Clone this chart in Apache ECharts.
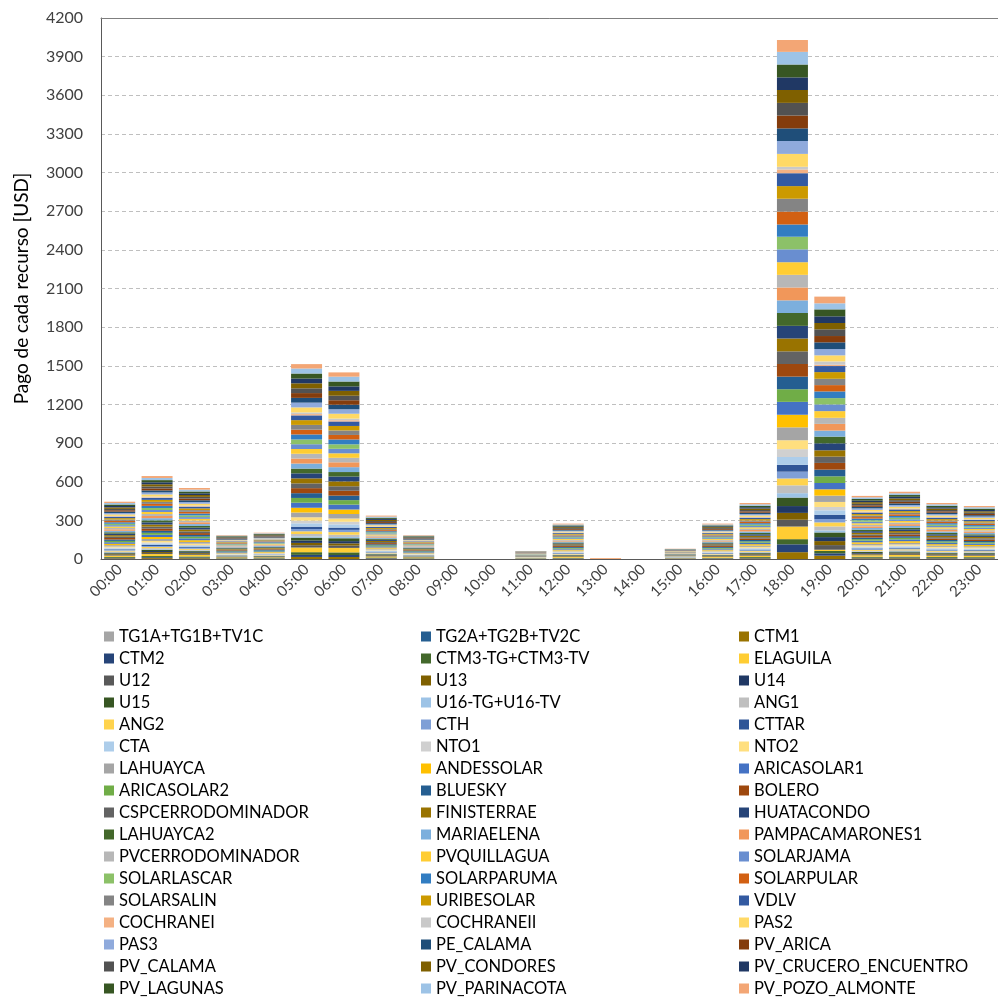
<!DOCTYPE html>
<html>
<head>
<meta charset="utf-8">
<script src="https://cdn.jsdelivr.net/npm/echarts@6/dist/echarts.min.js"></script>
<style>
html,body{margin:0;padding:0;background:#fff;}
#chart{width:998px;height:1001px;}
</style>
</head>
<body>
<div id="chart"></div>
<script>
const hours = ["00:00","01:00","02:00","03:00","04:00","05:00","06:00","07:00","08:00","09:00","10:00","11:00","12:00","13:00","14:00","15:00","16:00","17:00","18:00","19:00","20:00","21:00","22:00","23:00"];
const yTicks = {min: 0, max: 4200, step: 300};

const names = ["TG1A+TG1B+TV1C","TG2A+TG2B+TV2C","CTM1","CTM2","CTM3-TG+CTM3-TV","ELAGUILA","U12","U13","U14","U15","U16-TG+U16-TV","ANG1","ANG2","CTH","CTTAR","CTA","NTO1","NTO2","LAHUAYCA","ANDESSOLAR","ARICASOLAR1","ARICASOLAR2","BLUESKY","BOLERO","CSPCERRODOMINADOR","FINISTERRAE","HUATACONDO","LAHUAYCA2","MARIAELENA","PAMPACAMARONES1","PVCERRODOMINADOR","PVQUILLAGUA","SOLARJAMA","SOLARLASCAR","SOLARPARUMA","SOLARPULAR","SOLARSALIN","URIBESOLAR","VDLV","COCHRANEI","COCHRANEII","PAS2","PAS3","PE_CALAMA","PV_ARICA","PV_CALAMA","PV_CONDORES","PV_CRUCERO_ENCUENTRO","PV_LAGUNAS","PV_PARINACOTA","PV_POZO_ALMONTE"];

const colors = ["#A5A5A5","#255E91","#997300","#264478","#43682B","#FFCD33","#595959","#7F6000","#203864","#375623","#9DC3E6","#BFBFBF","#FFD34D","#7F9FD6","#2F5597","#ADCDEA","#D0D0D0","#FFDF7F","#A5A5A5","#FFC000","#4472C4","#70AD47","#255E91","#9E480E","#636363","#997300","#264478","#43682B","#7CAFDD","#F1975A","#B7B7B7","#FFCD33","#698ED0","#8CC168","#327DC2","#D26012","#848484","#CC9A00","#335AA1","#F4B183","#C9C9C9","#FFD966","#8FAADC","#1F4E79","#843C0C","#525252","#7F6000","#203864","#375623","#9DC3E6","#F3A675"];

// values per series, one entry per hour 00:00..23:00
const TG1A = [0,0,0,0,0,0,0,0,0,0,0,0,0,0,0,0,0,0,0,0,0,0,0,0];
const TG2A = [0,0,0,0,0,0,0,0,0,0,0,0,0,0,0,0,0,0,0,0,0,0,0,0];
const CTM1 = [4.8,6.9,5.9,2.0,2.2,16,15.5,3.6,2.0,0,0,0.7,2.9,0,0,0.9,2.9,4.7,53,26,5.2,5.6,4.7,4.4];
const CTM2 = [4.8,6.9,5.9,2.0,2.2,16,15.5,3.6,2.0,0,0,0.7,2.9,0,0,0.9,2.9,4.7,61,18,5.2,5.6,4.7,4.4];
const CTM3 = [6.3,9.1,7.7,2.6,2.9,21,20.4,4.7,2.6,0,0,0.9,3.9,0,0,1.1,3.9,6.1,40,18,6.9,7.3,6.1,5.8];
const ELAGUILA = [10.7,15.5,13.3,4.5,4.9,36,34.9,8.1,4.5,0,0,1.5,6.6,0,0,1.9,6.6,10.5,98,10,11.8,12.6,10.5,9.9];
const U12 = [5.4,7.8,6.6,2.2,2.5,18,17.5,4.1,2.2,0,0,0.7,3.3,0,0,1.0,3.3,5.2,53,36,5.9,6.3,5.2,5.0];
const U13 = [5.4,7.8,6.6,2.2,2.5,18,17.5,4.1,2.2,0,0,0.7,3.3,0,0,1.0,3.3,5.2,53,31,5.9,6.3,5.2,5.0];
const U14 = [5.4,7.8,6.6,2.2,2.5,18,17.5,4.1,2.2,0,0,0.7,3.3,0,0,1.0,3.3,5.2,53,31,5.9,6.3,5.2,5.0];
const U15 = [6.9,9.9,8.5,2.9,3.2,23,22.3,5.2,2.9,0,0,1.0,4.2,0,0,1.2,4.2,6.7,66,36,7.5,8.0,6.7,6.3];
const U16 = [3.0,4.3,3.7,1.2,1.4,10,9.7,2.3,1.2,0,0,0.4,1.8,0,0,0.5,1.8,2.9,34,16,3.3,3.5,2.9,2.8];
const ANG1 = [5.4,7.8,6.6,2.2,2.5,18,17.5,4.1,2.2,0,0,0.7,3.3,0,0,1.0,3.3,5.2,61,31,5.9,6.3,5.2,5.0];
const ANG2 = [6.3,9.1,7.7,2.6,2.9,21,20.4,4.7,2.6,0,0,0.9,3.9,0,0,1.1,3.9,6.1,53,31,6.9,7.3,6.1,5.8];
const CTH = [5.4,7.8,6.6,2.2,2.5,18,17.5,4.1,2.2,0,0,0.7,3.3,0,0,1.0,3.3,5.2,53,26,5.9,6.3,5.2,5.0];
const CTTAR = [5.4,7.8,6.6,2.2,2.5,18,17.5,4.1,2.2,0,0,0.7,3.3,0,0,1.0,3.3,5.2,53,34,5.9,6.3,5.2,5.0];
const CTA = [7.7,11.2,9.6,3.2,3.6,26,25.2,5.9,3.2,0,0,1.1,4.8,0,0,1.4,4.8,7.6,61,34,8.5,9.1,7.6,7.2];
const NTO1 = [6.3,9.1,7.7,2.6,2.9,21,20.4,4.7,2.6,0,0,0.9,3.9,0,0,1.1,3.9,6.1,61,26,6.9,7.3,6.1,5.8];
const NTO2 = [7.7,11.2,9.6,3.2,3.6,26,25.2,5.9,3.2,0,0,1.1,4.8,0,0,1.4,4.8,7.6,69,39,8.5,9.1,7.6,7.2];
const LAHUAYCA = [10.7,15.5,13.3,4.5,4.9,37,34.9,8.1,4.5,0,0,1.5,6.6,0,0,1.9,6.6,10.5,100,49,11.8,12.6,10.5,9.9];
const ANDESSOLAR = [10.7,15.5,13.3,4.5,4.9,37,34.9,8.1,4.5,0,0,1.5,6.6,0,0,1.9,6.6,10.5,98,49,11.8,12.6,10.5,9.9];
const ARICASOLAR1 = [11.6,16.8,14.4,4.9,5.3,39,37.8,8.8,4.9,0,0,1.6,7.2,0,0,2.1,7.2,11.3,100,49,12.8,13.6,11.3,10.7];
const ARICASOLAR2 = [10.7,15.5,13.3,4.5,4.9,37,34.9,8.1,4.5,0,0,1.5,6.6,0,0,1.9,6.6,10.5,98,52,11.8,12.6,10.5,9.9];
const BLUESKY = [10.7,15.5,13.3,4.5,4.9,37,34.9,8.1,4.5,0,0,1.5,6.6,0,0,1.9,6.6,10.5,98,52,11.8,12.6,10.5,9.9];
const BOLERO = [11.6,16.8,14.4,4.9,5.3,39,37.8,8.8,4.9,0,0,1.6,7.2,0,0,2.1,7.2,11.3,98,52,12.8,13.6,11.3,10.7];
const CSPCERRODOMINADOR = [10.7,15.5,13.3,4.5,4.9,37,34.9,8.1,4.5,0,0,1.5,6.6,0,0,1.9,6.6,10.5,98,49,11.8,12.6,10.5,9.9];
const FINISTERRAE = [11.6,16.8,14.4,4.9,5.3,39,37.8,8.8,4.9,0,0,1.6,7.2,0,0,2.1,7.2,11.3,100,49,12.8,13.6,11.3,10.7];
const HUATACONDO = [11.6,16.8,14.4,4.9,5.3,39,37.8,8.8,4.9,0,0,1.6,7.2,0,0,2.1,7.2,11.3,98,54,12.8,13.6,11.3,10.7];
const LAHUAYCA2 = [10.7,15.5,13.3,4.5,4.9,37,34.9,8.1,4.5,0,0,1.5,6.6,0,0,1.9,6.6,10.5,100,52,11.8,12.6,10.5,9.9];
const MARIAELENA = [11.6,16.8,14.4,4.9,5.3,39,37.8,8.8,4.9,0,0,1.6,7.2,0,0,2.1,7.2,11.3,98,47,12.8,13.6,11.3,10.7];
const PAMPACAMARONES1 = [11.6,16.8,14.4,4.9,5.3,39,37.8,8.8,4.9,0,0,1.6,7.2,0,0,2.1,7.2,11.3,100,52,12.8,13.6,11.3,10.7];
const PVCERRODOMINADOR = [10.7,15.5,13.3,4.5,4.9,37,34.9,8.1,4.5,0,0,1.5,6.6,0,0,1.9,6.6,10.5,98,47,11.8,12.6,10.5,9.9];
const PVQUILLAGUA = [10.7,15.5,13.3,4.5,4.9,37,34.9,8.1,4.5,0,0,1.5,6.6,0,0,1.9,6.6,10.5,98,52,11.8,12.6,10.5,9.9];
const SOLARJAMA = [10.7,15.5,13.3,4.5,4.9,37,34.9,8.1,4.5,0,0,1.5,6.6,0,0,1.9,6.6,10.5,100,52,11.8,12.6,10.5,9.9];
const SOLARLASCAR = [10.7,15.5,13.3,4.5,4.9,37,34.9,8.1,4.5,0,0,1.5,6.6,0,0,1.9,6.6,10.5,98,49,11.8,12.6,10.5,9.9];
const SOLARPARUMA = [11.6,16.8,14.4,4.9,5.3,39,37.8,8.8,4.9,0,0,1.6,7.2,0,0,2.1,7.2,11.3,95,52,12.8,13.6,11.3,10.7];
const SOLARPULAR = [10.7,15.5,13.3,4.5,4.9,37,34.9,8.1,4.5,0,0,1.5,6.6,0,0,1.9,6.6,10.5,100,49,11.8,12.6,10.5,9.9];
const SOLARSALIN = [10.7,15.5,13.3,4.5,4.9,37,34.9,8.1,4.5,0,0,1.5,6.6,0,0,1.9,6.6,10.5,100,49,11.8,12.6,10.5,9.9];
const URIBESOLAR = [10.7,15.5,13.3,4.5,4.9,37,34.9,8.1,4.5,0,0,1.5,6.6,0,0,1.9,6.6,10.5,98,52,11.8,12.6,10.5,9.9];
const VDLV = [10.7,15.5,13.3,4.5,4.9,37,34.9,8.1,4.5,0,0,1.5,6.6,0,0,1.9,6.6,10.5,100,47,11.8,12.6,10.5,9.9];
const COCHRANEI = [3.0,4.3,3.7,1.2,1.4,10,9.7,2.3,1.2,0,0,0.4,1.8,8,0,0.5,1.8,2.9,29,10,3.3,3.5,2.9,2.8];
const COCHRANEII = [3.9,5.6,4.8,1.6,1.8,13,12.6,2.9,1.6,0,0,0.5,2.4,0,0,0.7,2.4,3.8,21,26,4.3,4.5,3.8,3.6];
const PAS2 = [11.6,16.8,14.4,4.9,5.3,39,37.8,8.8,4.9,0,0,1.6,7.2,0,0,2.1,7.2,11.3,100,47,12.8,13.6,11.3,10.7];
const PAS3 = [10.7,15.5,13.3,4.5,4.9,37,34.9,8.1,4.5,0,0,1.5,6.6,0,0,1.9,6.6,10.5,100,49,11.8,12.6,10.5,9.9];
const PE_CALAMA = [10.7,15.5,13.3,4.5,4.9,37,34.9,8.1,4.5,0,0,1.5,6.6,0,0,1.9,6.6,10.5,98,52,11.8,12.6,10.5,9.9];
const PV_ARICA = [10.7,15.5,13.3,4.5,4.9,37,34.9,8.1,4.5,0,0,1.5,6.6,0,0,1.9,6.6,10.5,100,49,11.8,12.6,10.5,9.9];
const PV_CALAMA = [10.7,15.5,13.3,4.5,4.9,37,34.9,8.1,4.5,0,0,1.5,6.6,0,0,1.9,6.6,10.5,98,52,11.8,12.6,10.5,9.9];
const PV_CONDORES = [11.6,16.8,14.4,4.9,5.3,39,37.8,8.8,4.9,0,0,1.6,7.2,0,0,2.1,7.2,11.3,100,49,12.8,13.6,11.3,10.7];
const PV_CRUCERO_ENCUENTRO = [10.7,15.5,13.3,4.5,4.9,37,34.9,8.1,4.5,0,0,1.5,6.6,0,0,1.9,6.6,10.5,98,52,11.8,12.6,10.5,9.9];
const PV_LAGUNAS = [11.6,16.8,14.4,4.9,5.3,39,37.8,8.8,4.9,0,0,1.6,7.2,0,0,2.1,7.2,11.3,100,54,12.8,13.6,11.3,10.7];
const PV_PARINACOTA = [11.6,16.8,14.4,4.9,5.3,39,37.8,8.8,4.9,0,0,1.6,7.2,0,0,2.1,7.2,11.3,98,47,12.8,13.6,11.3,10.7];
const PV_POZO_ALMONTE = [10.1,14.7,12.5,4.2,4.7,34,33,7.7,4.2,0,0,1.4,6.3,0,0,1.8,6.3,9.9,92,52,11.2,11.9,9.9,9.4];

const valueLists = [TG1A,TG2A,CTM1,CTM2,CTM3,ELAGUILA,U12,U13,U14,U15,U16,ANG1,ANG2,CTH,CTTAR,CTA,NTO1,NTO2,LAHUAYCA,ANDESSOLAR,ARICASOLAR1,ARICASOLAR2,BLUESKY,BOLERO,CSPCERRODOMINADOR,FINISTERRAE,HUATACONDO,LAHUAYCA2,MARIAELENA,PAMPACAMARONES1,PVCERRODOMINADOR,PVQUILLAGUA,SOLARJAMA,SOLARLASCAR,SOLARPARUMA,SOLARPULAR,SOLARSALIN,URIBESOLAR,VDLV,COCHRANEI,COCHRANEII,PAS2,PAS3,PE_CALAMA,PV_ARICA,PV_CALAMA,PV_CONDORES,PV_CRUCERO_ENCUENTRO,PV_LAGUNAS,PV_PARINACOTA,PV_POZO_ALMONTE];

const FONT = 'Lato';
const series = names.map((n, i) => ({
  name: n,
  type: 'bar',
  stack: 'total',
  barWidth: 31,
  data: valueLists[i],
  itemStyle: {color: colors[i], borderWidth: 0},
  emphasis: {disabled: true}
}));

const legendCol = (col, left) => ({
  orient: 'vertical',
  left: left,
  top: 628,
  height: 373,
  padding: 0,
  itemWidth: 10,
  itemHeight: 10,
  itemGap: 5,
  icon: 'rect',
  selectedMode: false,
  textStyle: {fontFamily: FONT, fontSize: 16.5, lineHeight: 17, color: '#000'},
  data: names.filter((_, i) => i % 3 === col)
});

const chart = echarts.init(document.getElementById('chart'), null, {renderer: 'canvas'});
chart.setOption({
  animation: false,
  color: colors,
  textStyle: {fontFamily: FONT},
  grid: {left: 101, top: 18, width: 905, height: 541, containLabel: false},
  legend: [legendCol(0, 104), legendCol(1, 421), legendCol(2, 739)],
  xAxis: [{
    type: 'category',
    data: hours,
    axisLine: {lineStyle: {color: '#595959', width: 1}},
    axisTick: {show: false},
    axisLabel: {rotate: 45, interval: 0, fontSize: 15, color: '#404040', fontFamily: FONT, margin: 8}
  }, {
    type: 'category',
    position: 'top',
    data: hours,
    axisLine: {lineStyle: {color: '#7f7f7f', width: 1}},
    axisTick: {show: false},
    axisLabel: {show: false}
  }],
  yAxis: {
    type: 'value',
    min: yTicks.min, max: yTicks.max, interval: yTicks.step,
    name: 'Pago de cada recurso [USD]',
    nameLocation: 'middle',
    nameGap: 70,
    nameTextStyle: {fontFamily: FONT, fontSize: 19, color: '#000'},
    axisLine: {show: true, lineStyle: {color: '#595959', width: 1}},
    axisTick: {show: false},
    axisLabel: {fontSize: 16, color: '#404040', fontFamily: FONT, margin: 18, formatter: (v) => String(v)},
    splitLine: {lineStyle: {color: '#bfbfbf', type: [4, 3], width: 1}}
  },
  series: series
});
</script>
</body>
</html>
